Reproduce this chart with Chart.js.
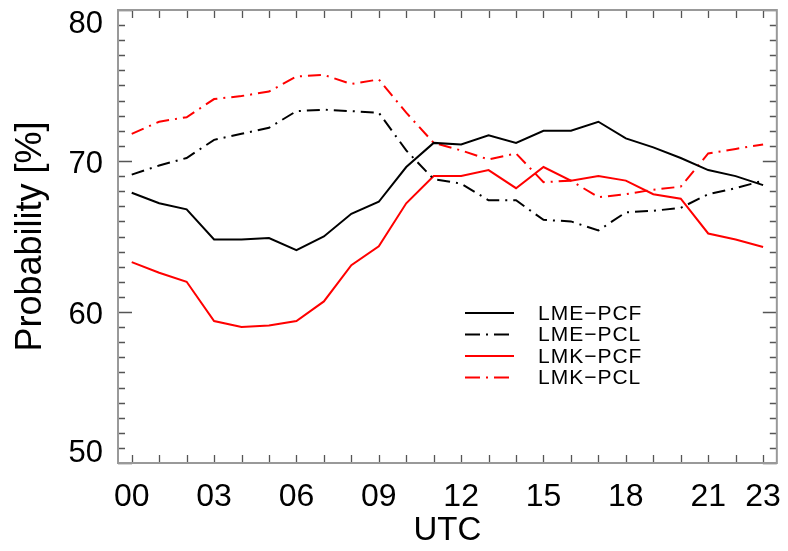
<!DOCTYPE html>
<html>
<head>
<meta charset="utf-8">
<script src="https://cdn.jsdelivr.net/npm/chart.js@4.4.1/dist/chart.umd.min.js"></script>
<style>
  html, body { margin: 0; padding: 0; background: #ffffff; }
  #wrap { width: 788px; height: 551px; }
</style>
</head>
<body>
<div id="wrap"><canvas id="c" width="788" height="551"></canvas></div>
<script>
// ---- data ----
const hours = ['00','01','02','03','04','05','06','07','08','09','10','11',
               '12','13','14','15','16','17','18','19','20','21','22','23'];
const shownHourLabels = ['00','03','06','09','12','15','18','21','23'];
const yTickValues = [50, 60, 70, 80];

const lmePcf = [67.9, 67.2, 66.8, 64.8, 64.8, 64.9, 64.1, 65.0, 66.5, 67.3, 69.6, 71.2,
                71.1, 71.7, 71.2, 72.0, 72.0, 72.6, 71.5, 70.9, 70.2, 69.4, 69.0, 68.4];
const lmePcl = [69.1, 69.7, 70.2, 71.4, 71.8, 72.2, 73.3, 73.4, 73.3, 73.2, 70.7, 68.8,
                68.5, 67.4, 67.4, 66.1, 66.0, 65.4, 66.6, 66.7, 66.9, 67.8, 68.2, 68.7];
const lmkPcf = [63.3, 62.6, 62.0, 59.4, 59.0, 59.1, 59.4, 60.7, 63.1, 64.35, 67.2, 69.0,
                69.0, 69.4, 68.2, 69.6, 68.7, 69.0, 68.7, 67.8, 67.5, 65.2, 64.8, 64.3];
const lmkPcl = [71.8, 72.6, 72.9, 74.1, 74.3, 74.6, 75.6, 75.7, 75.1, 75.4, 73.2, 71.2,
                70.7, 70.1, 70.5, 68.6, 68.7, 67.6, 67.8, 68.1, 68.3, 70.5, 70.8, 71.1];

const seriesNames = ['LME\u2212PCF', 'LME\u2212PCL', 'LMK\u2212PCF', 'LMK\u2212PCL'];

// ---- styles ----
const FONT = 'Liberation Sans, Arial, Helvetica, sans-serif';
const DASHDOT = [13, 6, 2, 6];

function ds(label, data, color, dash) {
  return {
    label, data,
    borderColor: color, backgroundColor: color,
    borderWidth: 2, borderDash: dash,
    pointRadius: 0, tension: 0, fill: false
  };
}

// frame + inward tick marks + y tick labels (IDL style)
const framePlugin = {
  id: 'frame',
  afterDatasetsDraw(chart) {
    const {ctx, chartArea: a} = chart;
    const xs = chart.scales.x, ys = chart.scales.y;
    ctx.save();
    ctx.strokeStyle = '#555';
    ctx.lineWidth = 1.3;
    ctx.beginPath();
    hours.forEach((h, i) => {
      const px = Math.round(xs.getPixelForValue(i)) + 0.5;
      ctx.moveTo(px, a.bottom); ctx.lineTo(px, a.bottom - 8);
      ctx.moveTo(px, a.top); ctx.lineTo(px, a.top + 8);
    });
    for (let v = ys.min; v <= ys.max; v++) {
      const py = Math.round(ys.getPixelForValue(v)) + 0.5;
      const len = (v % 10 === 0) ? 14 : 7;
      ctx.moveTo(a.left, py); ctx.lineTo(a.left + len, py);
      ctx.moveTo(a.right, py); ctx.lineTo(a.right - len, py);
    }
    ctx.stroke();
    ctx.strokeStyle = '#999';
    ctx.lineWidth = 2;
    ctx.strokeRect(a.left, a.top, a.right - a.left, a.bottom - a.top);
    ctx.fillStyle = '#000';
    ctx.font = '31px ' + FONT;
    ctx.textAlign = 'right';
    ctx.textBaseline = 'alphabetic';
    yTickValues.forEach(v => {
      const py = ys.getPixelForValue(v);
      let base;
      if (v === ys.max) base = py + 22.5;
      else if (v === ys.min) base = py - 1;
      else base = py + 12;
      ctx.fillText(String(v), a.left - 15, base);
    });
    ctx.restore();
  }
};

// legend drawn inside the plot area
const innerLegend = {
  id: 'innerLegend',
  afterDatasetsDraw(chart, args, opts) {
    const {ctx} = chart;
    ctx.save();
    chart.data.datasets.forEach((d, i) => {
      const y = opts.y0 + i * opts.dy;
      ctx.strokeStyle = d.borderColor;
      ctx.lineWidth = 2;
      ctx.setLineDash((d.borderDash && d.borderDash.length) ? [15, 6, 2, 6] : []);
      ctx.beginPath();
      ctx.moveTo(opts.x0, y); ctx.lineTo(opts.x1, y);
      ctx.stroke();
      ctx.setLineDash([]);
      ctx.fillStyle = '#000';
      ctx.font = '21px ' + FONT;
      ctx.letterSpacing = '1px';
      ctx.textAlign = 'left';
      ctx.textBaseline = 'middle';
      ctx.fillText(d.label, opts.xt, y + 1);
    });
    ctx.restore();
  }
};

new Chart(document.getElementById('c'), {
  type: 'line',
  data: {
    labels: hours,
    datasets: [
      ds(seriesNames[0], lmePcf, '#000000', []),
      ds(seriesNames[1], lmePcl, '#000000', DASHDOT),
      ds(seriesNames[2], lmkPcf, '#ff0000', []),
      ds(seriesNames[3], lmkPcl, '#ff0000', DASHDOT)
    ]
  },
  options: {
    responsive: false,
    animation: false,
    events: [],
    layout: { padding: { top: 10, right: 5, left: 0, bottom: 0 } },
    plugins: {
      legend: { display: false },
      tooltip: { enabled: false },
      innerLegend: { x0: 465, x1: 514, xt: 538, y0: 313, dy: 21.5 }
    },
    scales: {
      x: {
        type: 'category',
        offset: true,
        grid: { display: false },
        border: { display: false },
        ticks: {
          autoSkip: false, maxRotation: 0, minRotation: 0,
          padding: 7, color: '#000',
          font: { family: FONT, size: 32 },
          callback: function(val, idx) {
            const l = hours[idx];
            return shownHourLabels.includes(l) ? l : '';
          }
        },
        title: {
          display: true, text: 'UTC', color: '#000',
          font: { family: FONT, size: 33 },
          padding: { top: 0, bottom: 0 }
        },
        afterFit(s) { s.height = 88; }
      },
      y: {
        type: 'linear', min: 50, max: 80,
        grid: { display: false },
        border: { display: false },
        ticks: { display: false },
        title: {
          display: true, text: 'Probability [%]', color: '#000',
          font: { family: FONT, size: 36 },
          padding: { top: 9, bottom: 9 }
        },
        afterFit(s) { s.width = 118; }
      }
    }
  },
  plugins: [framePlugin, innerLegend]
});
</script>
</body>
</html>
